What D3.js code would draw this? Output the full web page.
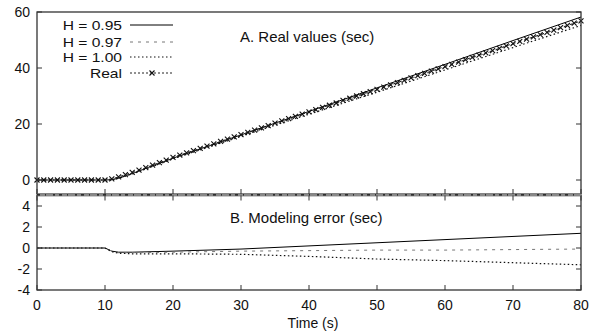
<!DOCTYPE html>
<html>
<head>
<meta charset="utf-8">
<script src="https://cdn.jsdelivr.net/npm/d3@7"></script>
<style>
  body { margin: 0; background: #fff; }
  svg { display: block; font-family: "Liberation Sans", Arial, sans-serif; }
</style>
</head>
<body>
<div id="chart"></div>
<script>
// time axis for the model curves and the error curves
let times = [0, 5, 10, 11, 12, 14, 20, 30, 40, 50, 60, 70, 80];

// panel A: predicted values (sec)
let h095 = [0, 0, 0, 0.1, 0.65, 2.3, 7.8, 16.1, 24.5, 32.9, 41.3, 49.8, 58.2];
let h097 = [0, 0, 0, 0.1, 0.65, 2.25, 7.7, 15.9, 24.05, 32.2, 40.3, 48.55, 56.7];
let h100 = [0, 0, 0, 0.1, 0.6, 2.15, 7.55, 15.6, 23.5, 31.35, 39.3, 47.3, 55.2];

// real values, one sample per second (0..80)
let realValues = [0, 0, 0, 0, 0, 0, 0, 0, 0, 0, 0,
  0.4, 1.1, 1.9, 2.7, 3.5, 4.4, 5.3, 6.2, 7.1, 8.1,
  8.9, 9.7, 10.5, 11.3, 12.1, 12.9, 13.8, 14.6, 15.4, 16.2,
  17.0, 17.8, 18.6, 19.4, 20.3, 21.1, 21.9, 22.7, 23.5, 24.3,
  25.1, 25.9, 26.7, 27.5, 28.4, 29.2, 30.0, 30.8, 31.6, 32.4,
  33.2, 34.0, 34.8, 35.6, 36.5, 37.3, 38.1, 38.9, 39.7, 40.5,
  41.3, 42.1, 43.0, 43.8, 44.6, 45.4, 46.2, 47.0, 47.9, 48.7,
  49.5, 50.3, 51.1, 51.9, 52.7, 53.5, 54.4, 55.2, 56.0, 56.8];

// panel B: modeling error (sec)
let err095 = [0, 0, 0, -0.3, -0.4, -0.4, -0.3, -0.1, 0.2, 0.5, 0.8, 1.1, 1.4];
let err097 = [0, 0, 0, -0.3, -0.45, -0.45, -0.4, -0.3, -0.25, -0.2, -0.2, -0.15, -0.1];
let err100 = [0, 0, 0, -0.35, -0.5, -0.55, -0.55, -0.6, -0.8, -1.05, -1.2, -1.4, -1.6];

let xTicks = [0, 10, 20, 30, 40, 50, 60, 70, 80];
let topTicks = [0, 20, 40, 60];
let bottomTicks = [-4, -2, 0, 2, 4];
let legendLabels = ["H = 0.95", "H = 0.97", "H = 1.00", "Real"];

let width = 590, height = 332;
let svg = d3.select("#chart").append("svg")
  .attr("width", width).attr("height", height);

let x = d3.scaleLinear().domain([0, 80]).range([37, 581]);
let yTop = d3.scaleLinear().domain([-5, 60]).range([194, 12]);
let yBot = d3.scaleLinear().domain([-4, 5]).range([290, 195.5]);

let styles = [
  { stroke: "#000", dash: null, w: 1 },
  { stroke: "#777", dash: "3,5", w: 1 },
  { stroke: "#111", dash: "1.5,2.5", w: 1.2 },
  { stroke: "#222", dash: "3,3", w: 1 }
];

function drawLine(yScale, xs, ys, st) {
  let line = d3.line().x((d, i) => x(xs[i])).y(d => yScale(d));
  svg.append("path").datum(ys)
    .attr("d", line)
    .attr("fill", "none")
    .attr("stroke", st.stroke)
    .attr("stroke-width", st.w)
    .attr("stroke-dasharray", st.dash);
}

function label(txt, px, py, size, anchor, sx) {
  svg.append("text")
    .attr("transform", "translate(" + px + "," + py + ") scale(" + (sx || 1) + ",1)")
    .attr("text-anchor", anchor)
    .attr("font-size", size)
    .attr("fill", "#111")
    .text(txt);
}

// panel A curves
let realTimes = realValues.map((d, i) => i);
drawLine(yTop, times, h095, styles[0]);
drawLine(yTop, times, h097, styles[1]);
drawLine(yTop, times, h100, styles[2]);
drawLine(yTop, realTimes, realValues, styles[3]);
svg.append("g").selectAll("path").data(realValues).enter()
  .append("path")
  .attr("d", d3.symbol(d3.symbolX, 18))
  .attr("transform", (d, i) => "translate(" + x(i) + "," + yTop(d) + ")")
  .attr("stroke", "#111").attr("stroke-width", 1.1).attr("fill", "none");

// panel B curves
drawLine(yBot, times, err095, styles[0]);
drawLine(yBot, times, err097, styles[1]);
drawLine(yBot, times, err100, styles[2]);

// frames
let frame = svg.append("g").attr("fill", "none").attr("stroke", "#333").attr("stroke-width", 1.3);
frame.append("rect").attr("x", x(0)).attr("y", yTop(60)).attr("width", x(80) - x(0)).attr("height", yTop(-5) - yTop(60));
frame.append("rect").attr("x", x(0)).attr("y", yBot(5)).attr("width", x(80) - x(0)).attr("height", yBot(-4) - yBot(5));
svg.append("line").attr("x1", x(0)).attr("x2", x(80)).attr("y1", 194.8).attr("y2", 194.8)
  .attr("stroke", "#888").attr("stroke-width", 3);
svg.append("line").attr("x1", x(0)).attr("x2", x(80)).attr("y1", 194.8).attr("y2", 194.8)
  .attr("stroke", "#111").attr("stroke-width", 1.2).attr("stroke-dasharray", "3,5,1,7,2,4");

// ticks (inward)
let tk = svg.append("g").attr("stroke", "#333").attr("stroke-width", 1);
xTicks.forEach(t => {
  tk.append("line").attr("x1", x(t)).attr("x2", x(t)).attr("y1", yBot(-4)).attr("y2", yBot(-4) - 5);
  tk.append("line").attr("x1", x(t)).attr("x2", x(t)).attr("y1", yBot(5)).attr("y2", yBot(5) + 5);
  tk.append("line").attr("x1", x(t)).attr("x2", x(t)).attr("y1", yTop(-5)).attr("y2", yTop(-5) - 5);
  label(t, x(t), 310, 14, "middle");
});
topTicks.forEach(t => {
  tk.append("line").attr("x1", x(0)).attr("x2", x(0) + 5).attr("y1", yTop(t)).attr("y2", yTop(t));
  tk.append("line").attr("x1", x(80)).attr("x2", x(80) - 5).attr("y1", yTop(t)).attr("y2", yTop(t));
  label(t, 30, yTop(t) + 5, 14, "end");
});
bottomTicks.forEach(t => {
  tk.append("line").attr("x1", x(0)).attr("x2", x(0) + 5).attr("y1", yBot(t)).attr("y2", yBot(t));
  tk.append("line").attr("x1", x(80)).attr("x2", x(80) - 5).attr("y1", yBot(t)).attr("y2", yBot(t));
  label(t, 30, yBot(t) + 5, 14, "end");
});

// titles
label("A. Real values (sec)", 240, 42, 15, "start");
label("B. Modeling error (sec)", 230, 223, 15, "start");
label("Time (s)", 313, 328, 14, "middle");

// legend
let legY = [25, 42, 57, 73];
legendLabels.forEach((name, i) => {
  label(name, 122, legY[i] + 5, 13, "end", 1.2);
  svg.append("line").attr("x1", 130).attr("x2", 173).attr("y1", legY[i]).attr("y2", legY[i])
    .attr("stroke", styles[i].stroke).attr("stroke-width", styles[i].w)
    .attr("stroke-dasharray", i === 3 ? "2,2" : styles[i].dash);
});
svg.append("path").attr("d", d3.symbol(d3.symbolX, 18))
  .attr("transform", "translate(152," + legY[3] + ")")
  .attr("stroke", "#111").attr("stroke-width", 1.1).attr("fill", "none");
</script>
</body>
</html>
